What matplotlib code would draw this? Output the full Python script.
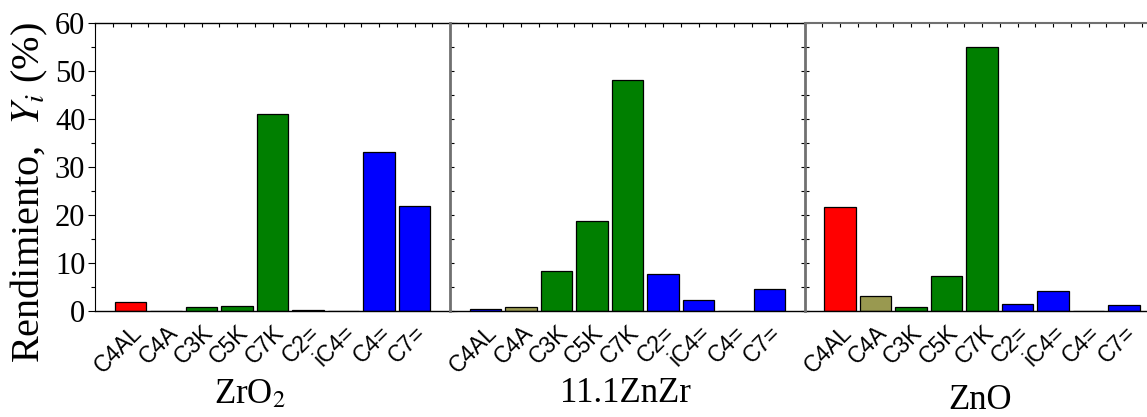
import numpy as np
import matplotlib
matplotlib.use("Agg")
import matplotlib.pyplot as plt
from matplotlib.ticker import MultipleLocator

plt.rcParams["font.family"] = "Liberation Serif"
plt.rcParams["mathtext.fontset"] = "stix"

# Data
categories = ["C4AL", "C4A", "C3K", "C5K", "C7K", "C2=", "iC4=", "C4=", "C7="]
catalysts = ["ZrO$_2$", "11.1ZnZr", "ZnO"]
y_zro2 = [1.9, 0.0, 0.8, 1.1, 41.0, 0.2, 0.0, 33.1, 21.9]
y_znzr = [0.4, 0.8, 8.3, 18.8, 48.1, 7.7, 2.4, 0.0, 4.65]
y_zno = [21.8, 3.2, 0.8, 7.4, 55.0, 1.5, 4.3, 0.0, 1.25]

RED, OLIVE, GREEN, BLUE = "#ff0000", "#999950", "#007f00", "#0000ff"
colors_zro2 = [RED, OLIVE, GREEN, GREEN, GREEN, BLUE, BLUE, BLUE, BLUE]
colors_znzr = [BLUE, OLIVE, GREEN, GREEN, GREEN, BLUE, BLUE, BLUE, BLUE]
colors_zno = [RED, OLIVE, GREEN, GREEN, GREEN, BLUE, BLUE, BLUE, BLUE]

W, H = 1147, 417
fig = plt.figure(figsize=(W / 100, H / 100), dpi=100)

x = np.arange(1, len(categories) + 1)
panel_left = [95, 450, 804.5]
ax_w, ax_bottom, ax_h = 355, 105.7, 288
label_pos = [(250, 403), (625, 402), (980, 409)]
GREY = "#707070"

axes = []
for i, (vals, cols) in enumerate(zip([y_zro2, y_znzr, y_zno],
                                     [colors_zro2, colors_znzr, colors_zno])):
    ax = fig.add_axes([panel_left[i] / W, ax_bottom / H, ax_w / W, ax_h / H])
    ax.bar(x, vals, width=0.9, color=cols, edgecolor="black", linewidth=0.9)
    ax.set_xlim(0, 10)
    ax.set_ylim(0, 60)
    ax.set_xticks(x)
    ax.set_xticklabels(categories, rotation=45, ha="right", va="top",
                       rotation_mode="anchor", family="Liberation Sans",
                       fontsize=16.5)
    ax.xaxis.set_minor_locator(MultipleLocator(0.5))
    ax.tick_params(axis="x", which="both", bottom=False, top=True,
                   direction="in", length=3, width=0.8, pad=7)
    ax.yaxis.set_major_locator(MultipleLocator(10))
    ax.yaxis.set_minor_locator(MultipleLocator(5))
    if i == 0:
        ax.tick_params(axis="y", which="major", left=True, right=True,
                       labelsize=22, direction="out", length=5, width=0.8, pad=2)
        ax.tick_params(axis="y", which="minor", left=True, direction="out",
                       length=3, width=0.8)
        ax.tick_params(axis="y", which="both", right=True)
    else:
        ax.tick_params(axis="y", which="both", left=True, right=True,
                       labelleft=False, direction="in", length=3, width=0.8)
        ax.spines["left"].set_color(GREY)
        ax.spines["left"].set_linewidth(2)
    if i < 2:
        ax.spines["right"].set_visible(False)
    if i == 2:
        ax.spines["top"].set_color(GREY)
        ax.spines["top"].set_linewidth(1.5)
    for s in ["top", "bottom"]:
        if not (i == 2 and s == "top"):
            ax.spines[s].set_linewidth(1.0)
    ax.spines["left"].set_zorder(5)
    lx, ly = label_pos[i]
    fig.text(lx / W, 1 - ly / H, catalysts[i], fontsize=25,
             ha="center", va="baseline")
    axes.append(ax)

fig.text(29 / W, 1 - 193 / H, "Rendimiento,  $Y_i$ (%)", rotation=90,
         fontsize=29, ha="center", va="center")

fig.savefig("out.png", dpi=100)
